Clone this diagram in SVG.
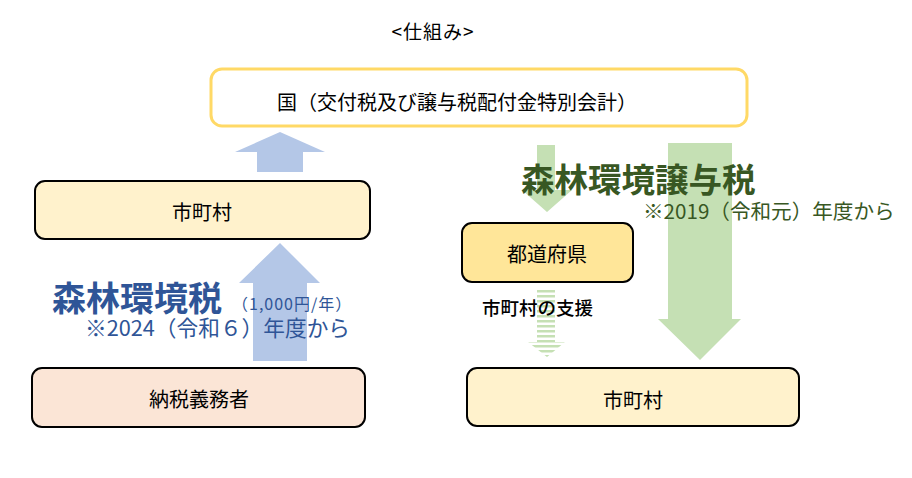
<svg xmlns="http://www.w3.org/2000/svg" width="912" height="478" viewBox="0 0 912 478">
<style>
text{font-family:"Noto Sans CJK JP","Liberation Sans",sans-serif;}
.box{stroke:#000;stroke-width:2;}
.lbl{font-size:20px;text-anchor:middle;dominant-baseline:central;fill:#000;}
.blue{fill:#B4C7E7;}
.green{fill:#C5E0B4;}
.bt{fill:#2F5597;}
.gt{fill:#385723;}
</style>
<defs>
<pattern id="stripes" width="10" height="5" patternUnits="userSpaceOnUse">
<rect x="0" y="0" width="10" height="2.5" fill="#C5E0B4"/>
</pattern>
</defs>
<rect width="912" height="478" fill="#fff"/>
<text x="433" y="30" font-size="19" text-anchor="middle" dominant-baseline="central" letter-spacing="1">&lt;仕組み&gt;</text>

<g id="connectors">
<polygon class="blue" points="257,172 257,152 235,152 280,132 325,152 303,152 303,172"/>
<polygon class="blue" points="253,361 253,283 239,283 280,243 320,283 307,283 307,361"/>
<polygon class="green" points="537,145 555,145 555,190 572,190 547,212 522,190 537,190"/>
<polygon class="green" points="668,143 732,143 732,319 741,319 700,360 658,319 668,319"/>
<polygon fill="url(#stripes)" points="537,290 555,290 555,342 565,342 547,357 528,342 537,342"/>
</g>

<g id="kuni">
<rect x="211" y="69" width="536" height="57" rx="11" fill="#fff" stroke="#FFD966" stroke-width="3"/>
<text class="lbl" x="457" y="101" font-size="18">国（交付税及び譲与税配付金特別会計）</text>
</g>

<g id="shichoson-left">
<rect class="box" x="35" y="181" width="335" height="58" rx="10" fill="#FFF2CC"/>
<text class="lbl" x="202" y="211">市町村</text>
</g>

<g id="nozei">
<rect class="box" x="32" y="368" width="333" height="59" rx="10" fill="#FBE5D6"/>
<text class="lbl" x="199" y="398" font-size="21">納税義務者</text>
</g>

<g id="todofuken">
<rect class="box" x="462" y="223" width="171" height="59" rx="10" fill="#FFE699"/>
<text class="lbl" x="547" y="253" font-size="21">都道府県</text>
</g>

<g id="shichoson-right">
<rect class="box" x="467" y="368" width="332" height="58" rx="10" fill="#FFF2CC"/>
<text class="lbl" x="633" y="399">市町村</text>
</g>

<g id="labels">
<text class="bt" x="52" y="311" font-size="34" font-weight="bold">森林環境税</text>
<text class="bt" x="232" y="310" font-size="16" letter-spacing="1">（1,000円/年）</text>
<text class="bt" x="85" y="336" font-size="21.7">※2024（令和６）年度から</text>
<text class="gt" x="521" y="192" font-size="33.5" font-weight="bold">森林環境譲与税</text>
<text class="gt" x="643" y="219" font-size="20.6">※2019（令和元）年度から</text>
<text x="482" y="307" font-size="18.5" font-weight="500" dominant-baseline="central" fill="#000">市町村の支援</text>
</g>
</svg>
